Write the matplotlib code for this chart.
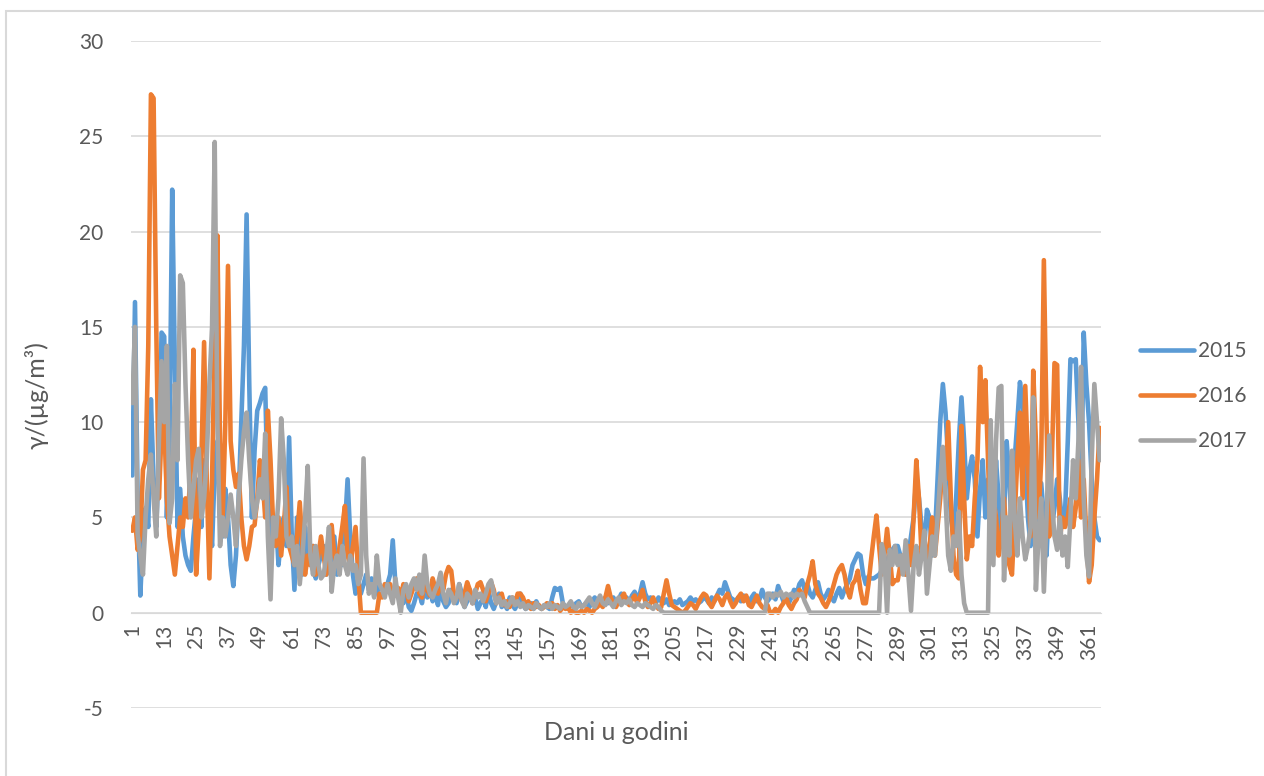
import numpy as np
import matplotlib.pyplot as plt
from matplotlib.patches import Rectangle

plt.rcParams['font.family'] = ['Lato', 'DejaVu Sans']
plt.rcParams['axes.unicode_minus'] = False

# day-by-day values (rows of 12 days, starting at day 1)
y2015 = [
    7.2, 16.3, 6.0, 0.9, 4.0, 5.5, 4.5, 11.2, 7.0, 4.5, 8.0, 14.7,
    14.5, 5.0, 9.0, 22.2, 13.0, 4.5, 6.5, 4.0, 3.0, 2.5, 2.2, 4.0,
    5.5, 7.0, 4.5, 8.0, 6.0, 5.0, 3.5, 7.5, 9.0, 5.0, 4.0, 6.5,
    5.0, 2.5, 1.4, 3.0, 6.0, 10.0, 14.0, 20.9, 12.0, 5.0, 8.5, 10.6,
    11.0, 11.5, 11.8, 6.0, 4.0, 3.5, 5.0, 2.5, 4.0, 5.0, 3.5, 9.2,
    4.0, 1.2, 5.0, 3.0, 2.0, 4.5, 3.0, 2.5, 3.5, 1.8, 2.5, 3.0,
    3.5, 2.0, 3.0, 2.5, 4.0, 2.0, 3.0, 2.5, 4.5, 7.0, 4.0, 2.0,
    1.0, 1.5, 1.0, 1.5, 2.0, 1.2, 1.8, 1.5, 1.0, 1.5, 1.2, 1.0,
    1.5, 2.0, 3.8, 1.5, 0.8, 1.0, 0.5, 1.2, 0.3, 0.1, 0.5, 1.0,
    1.0, 0.5, 1.5, 0.8, 1.2, 0.6, 1.0, 0.4, 1.5, 0.6, 0.3, 0.5,
    1.2, 0.8, 0.5, 1.5, 1.0, 0.3, 0.6, 1.2, 0.5, 0.8, 0.2, 0.5,
    0.8, 0.3, 1.2, 0.5, 0.2, 0.6, 1.0, 0.3, 0.5, 0.2, 0.8, 0.4,
    0.2, 0.5, 1.0, 0.4, 0.2, 0.3, 0.5, 0.2, 0.6, 0.3, 0.2, 0.4,
    0.3, 0.2, 0.8, 1.3, 1.2, 1.3, 0.5, 0.3, 0.2, 0.4, 0.3, 0.5,
    0.6, 0.3, 0.4, 0.5, 0.3, 0.6, 0.8, 0.5, 0.4, 0.6, 0.8, 0.5,
    0.6, 0.8, 0.5, 0.7, 1.0, 0.6, 0.8, 0.5, 0.9, 1.1, 0.8, 1.0,
    1.6, 1.0, 0.7, 0.8, 0.6, 0.5, 0.8, 0.6, 0.5, 0.7, 0.4, 0.5,
    0.6, 0.5, 0.7, 0.4, 0.5, 0.6, 0.8, 0.6, 0.7, 0.5, 0.6, 0.8,
    0.7, 0.5, 0.8, 0.6, 0.9, 1.2, 1.0, 1.6, 1.2, 0.8, 0.7, 0.6,
    0.8, 0.6, 0.9, 0.7, 0.5, 0.8, 1.0, 0.6, 0.7, 1.2, 0.8, 0.6,
    0.8, 1.0, 0.7, 1.4, 1.0, 0.6, 0.9, 0.5, 0.8, 1.2, 1.0, 1.5,
    1.7, 1.2, 1.5, 1.0, 0.8, 1.2, 1.6, 1.0, 0.7, 0.9, 1.2, 0.8,
    0.6, 1.0, 1.3, 0.8, 1.2, 1.5, 1.8, 2.5, 2.8, 3.1, 3.0, 2.0,
    1.5, 1.9, 1.8, 1.8, 1.9, 2.0, 2.2, 2.5, 2.8, 3.0, 3.3, 3.5,
    3.5, 3.0, 2.5, 2.0, 3.0, 4.0, 5.0, 7.1, 6.0, 4.5, 3.5, 5.4,
    5.0, 3.0, 4.0, 7.0, 10.0, 12.0, 10.5, 8.0, 5.0, 4.0, 6.0, 9.0,
    11.3, 9.0, 6.0, 7.5, 8.2, 7.0, 4.0, 6.5, 8.0, 5.0, 7.0, 4.0,
    5.0, 8.0, 6.0, 3.5, 5.0, 9.0, 7.0, 4.0, 8.0, 10.0, 12.1, 11.0,
    8.0, 5.0, 3.5, 6.0, 4.5, 4.4, 6.8, 5.0, 3.0, 6.0, 4.5, 5.5,
    7.0, 6.0, 4.5, 5.4, 9.0, 13.3, 13.2, 13.3, 10.0, 6.0, 14.7, 12.0,
    10.0, 7.0, 5.0, 4.0, 3.8,
]

y2016 = [
    4.3, 5.0, 3.3, 4.0, 7.5, 8.0, 14.0, 27.2, 27.0, 15.0, 6.0, 9.5,
    10.0, 6.0, 4.0, 3.0, 2.0, 3.5, 5.0, 4.5, 6.0, 5.0, 8.0, 13.8,
    2.0, 4.5, 8.0, 14.2, 7.0, 1.8, 7.0, 14.3, 19.8, 9.0, 5.0, 10.0,
    18.2, 9.0, 7.5, 6.6, 7.3, 5.0, 3.5, 2.8, 3.5, 4.5, 4.6, 6.0,
    8.0, 7.0, 5.0, 10.6, 8.0, 4.6, 3.5, 5.0, 3.0, 4.5, 6.6, 3.5,
    3.0, 2.5, 4.0, 5.8, 3.5, 2.0, 3.0, 2.5, 3.5, 2.0, 3.0, 4.0,
    3.0, 2.0, 3.5, 4.6, 3.0, 2.5, 3.5, 4.5, 5.6, 3.0, 2.5, 3.5,
    4.5, 2.0, 0.0, 0.0, 0.0, 0.0, 0.0, 0.0, 0.0, 1.0, 0.8, 1.5,
    1.2, 1.5, 0.8, 1.0, 1.3, 0.8, 1.5, 1.2, 0.6, 1.0, 1.4, 1.8,
    1.0, 0.8, 1.5, 1.2, 0.9, 1.8, 1.3, 1.0, 1.5, 1.2, 2.0, 2.4,
    2.2, 1.0, 0.8, 1.2, 0.6, 1.0, 1.6, 1.2, 0.5, 1.0, 1.5, 1.6,
    1.2, 0.6, 1.0, 1.6, 1.2, 0.5, 0.8, 1.0, 0.4, 0.6, 0.3, 0.8,
    0.5, 1.0, 1.0, 0.8, 0.4, 0.6, 0.2, 0.5, 0.3, 0.4, 0.2, 0.3,
    0.5, 0.3, 0.5, 0.2, 0.4, 0.1, 0.3, 0.2, 0.3, 0.0, 0.1, 0.0,
    0.0, 0.1, 0.0, 0.2, 0.1, 0.0, 0.2, 0.3, 0.5, 0.3, 0.8, 1.4,
    0.8, 0.5, 0.3, 0.6, 0.8, 1.0, 0.6, 0.4, 0.7, 0.9, 0.5, 0.8,
    1.2, 0.6, 0.3, 0.5, 0.8, 0.4, 0.2, 0.3, 1.0, 1.7, 1.0, 0.4,
    0.3, 0.2, 0.1, 0.0, 0.1, 0.3, 0.5, 0.4, 0.2, 0.5, 0.8, 1.0,
    0.9, 0.5, 0.3, 0.6, 0.9, 0.7, 0.4, 0.8, 1.0, 0.6, 0.3, 0.5,
    0.8, 1.0, 0.6, 0.9, 0.4, 0.3, 0.6, 0.9, 0.5, 0.3, 0.2, 0.4,
    0.0, 0.0, 0.2, 0.0, 0.3, 0.5, 0.8, 0.4, 0.2, 0.5, 0.7, 1.2,
    1.0, 0.8, 1.5, 2.0, 2.7, 1.5, 1.0, 0.8, 0.5, 0.3, 0.6, 1.0,
    1.5, 2.0, 2.3, 2.5, 2.0, 1.2, 0.8, 1.5, 1.7, 2.2, 1.2, 0.5,
    0.5, 1.5, 2.8, 4.0, 5.1, 3.5, 2.0, 3.0, 4.4, 3.0, 1.5, 1.7,
    1.7, 2.5, 3.0, 2.0, 3.5, 2.5, 5.0, 8.0, 6.0, 3.0, 4.0, 2.5,
    3.5, 5.0, 3.0, 4.5, 6.0, 8.0, 7.0, 10.0, 6.0, 3.0, 2.0, 1.8,
    9.8, 6.0, 2.8, 4.0, 3.5, 6.0, 8.0, 12.9, 10.0, 12.2, 8.0, 4.0,
    6.0, 5.0, 3.0, 4.0, 6.0, 4.0, 2.5, 2.0, 5.0, 8.0, 10.5, 6.0,
    11.9, 8.0, 4.0, 12.7, 9.0, 5.0, 8.0, 18.5, 10.0, 4.0, 8.0, 13.1,
    13.0, 3.8, 5.0, 4.5, 5.0, 6.0, 4.5, 5.5, 8.0, 5.0, 7.0, 4.0,
    1.6, 2.5, 5.0, 7.0, 9.7,
]

y2017 = [
    11.0, 15.0, 4.1, 3.0, 2.0, 5.0, 7.0, 8.3, 6.0, 4.0, 9.0, 13.2,
    10.0, 14.0, 4.7, 6.0, 12.0, 8.0, 17.7, 17.3, 12.0, 8.0, 5.0, 6.5,
    8.0, 8.6, 5.0, 6.0, 8.0, 12.0, 15.0, 24.7, 10.0, 3.5, 5.0, 4.0,
    5.0, 6.2, 5.0, 3.5, 6.0, 8.0, 9.5, 10.5, 8.0, 6.0, 5.0, 5.8,
    7.0, 6.0, 9.4, 4.0, 0.7, 5.0, 4.0, 6.0, 10.2, 8.0, 4.0, 3.5,
    4.0, 2.5, 3.5, 1.5, 3.0, 5.0, 7.7, 3.0, 2.0, 3.5, 2.5, 1.8,
    2.0, 3.0, 4.5, 1.1, 2.5, 3.0, 2.0, 3.5, 2.5, 2.0, 3.0, 2.2,
    2.5, 1.5, 2.0, 8.1, 3.0, 1.0, 1.5, 0.8, 3.0, 1.5, 1.2, 0.8,
    1.5, 1.0, 0.5, 1.8, 0.8, 0.0, 1.2, 1.5, 0.8, 1.5, 1.8, 1.2,
    2.0, 1.0, 3.0, 1.5, 1.0, 0.8, 1.2, 1.5, 2.1, 1.0, 0.5, 1.2,
    1.0, 0.5, 0.8, 1.5, 0.6, 0.3, 1.0, 0.8, 0.5, 1.2, 0.8, 1.0,
    0.6, 1.0, 1.5, 1.7, 1.0, 0.5, 0.8, 0.4, 0.6, 0.3, 0.5, 0.8,
    0.4, 0.6, 0.3, 0.5, 0.2, 0.4, 0.3, 0.2, 0.5, 0.3, 0.2, 0.4,
    0.3, 0.5, 0.2, 0.4, 0.3, 0.2, 0.5, 0.3, 0.4, 0.6, 0.3, 0.2,
    0.5, 0.3, 0.4, 0.6, 0.8, 0.5, 0.3, 0.6, 0.9, 0.5, 0.4, 0.7,
    0.5, 0.3, 0.6, 0.8, 0.4, 0.6, 0.5, 0.7, 0.4, 0.3, 0.5, 0.4,
    0.3, 0.5, 0.4, 0.3, 0.2, 0.4, 0.3, 0.1, 0.0, 0.0, 0.0, 0.0,
    0.0, 0.0, 0.0, 0.0, 0.0, 0.0, 0.0, 0.0, 0.0, 0.0, 0.0, 0.0,
    0.0, 0.0, 0.0, 0.0, 0.0, 0.0, 0.0, 0.0, 0.0, 0.0, 0.0, 0.0,
    0.0, 0.0, 0.0, 0.0, 0.0, 0.0, 0.0, 0.0, 0.0, 0.0, 0.0, 1.0,
    1.0, 0.8, 1.0, 0.9, 1.1, 0.8, 1.0, 0.9, 1.0, 0.8, 1.0, 0.9,
    1.0, 0.6, 0.3, 0.0, 0.0, 0.0, 0.0, 0.0, 0.0, 0.0, 0.0, 0.0,
    0.0, 0.0, 0.0, 0.0, 0.0, 0.0, 0.0, 0.0, 0.0, 0.0, 0.0, 0.0,
    0.0, 0.0, 0.0, 0.0, 0.0, 0.0, 3.6, 3.0, 0.0, 3.3, 2.5, 3.5,
    2.5, 3.0, 2.0, 3.8, 2.0, 0.1, 2.5, 3.5, 2.0, 3.0, 4.3, 1.0,
    2.5, 4.0, 3.0, 5.0, 7.0, 8.7, 6.0, 3.0, 2.2, 4.0, 3.5, 5.3,
    2.0, 0.5, 0.0, 0.0, 0.0, 0.0, 0.0, 0.0, 0.0, 0.0, 0.0, 10.1,
    2.5, 9.0, 11.8, 11.9, 1.7, 5.0, 3.0, 8.5, 5.0, 3.0, 6.0, 4.0,
    2.8, 3.5, 4.5, 11.3, 1.2, 4.0, 6.0, 1.1, 5.0, 9.3, 6.0, 4.0,
    3.3, 5.0, 3.0, 4.0, 2.4, 5.0, 8.0, 6.0, 9.0, 12.9, 6.0, 3.0,
    1.9, 8.0, 12.0, 10.0, 8.0,
]

days = np.arange(1, 366)
tick_days = list(range(1, 366, 12))
y_ticks = [-5, 0, 5, 10, 15, 20, 25, 30]

fig = plt.figure(figsize=(12.64, 7.76), dpi=100)
ax = fig.add_axes([131/1264, 1 - 708/776, 970/1264, 667/776])

txt = '#595959'
for y, lab, col in [(y2015, '2015', '#5B9BD5'),
                    (y2016, '2016', '#ED7D31'),
                    (y2017, '2017', '#A5A5A5')]:
    ax.plot(days, y, color=col, lw=3.3, label=lab,
            solid_joinstyle='round', solid_capstyle='round')

ax.set_xlim(0.5, 365.5)
ax.set_ylim(-5, 30)
ax.set_yticks(y_ticks)
ax.grid(axis='y', color='#D9D9D9', lw=1.2)
ax.set_axisbelow(True)
for s in ['top', 'right', 'left']:
    ax.spines[s].set_visible(False)
ax.spines['bottom'].set_position(('data', 0))
ax.spines['bottom'].set_color('#D9D9D9')
ax.set_xticks(tick_days)
ax.set_xticklabels([str(d) for d in tick_days], rotation=90)
ax.tick_params(axis='both', length=0, labelsize=15, colors=txt)
ax.tick_params(axis='y', pad=20)
ax.tick_params(axis='x', pad=8)

fig.text(616/1264, 1 - 733/776, 'Dani u godini', ha='center', va='center',
         fontsize=18, color=txt)
fig.text(37/1264, 1 - 395/776, 'γ/(µg/m³)', ha='center', va='center',
         rotation=90, fontsize=18, color=txt)

ax.legend(loc='center left', bbox_to_anchor=(1140/1264, 1 - 396/776),
          bbox_transform=fig.transFigure, frameon=False, fontsize=15,
          borderpad=0, borderaxespad=0, handlelength=2.6,
          labelspacing=1.2, handletextpad=0.2, labelcolor=txt)

fig.patches.append(Rectangle((6/1264, -0.05), 1.1, 1 - 11/776 + 0.05,
                             transform=fig.transFigure, fill=False,
                             edgecolor='#D9D9D9', lw=1.5))

fig.savefig('out.png', dpi=100)
